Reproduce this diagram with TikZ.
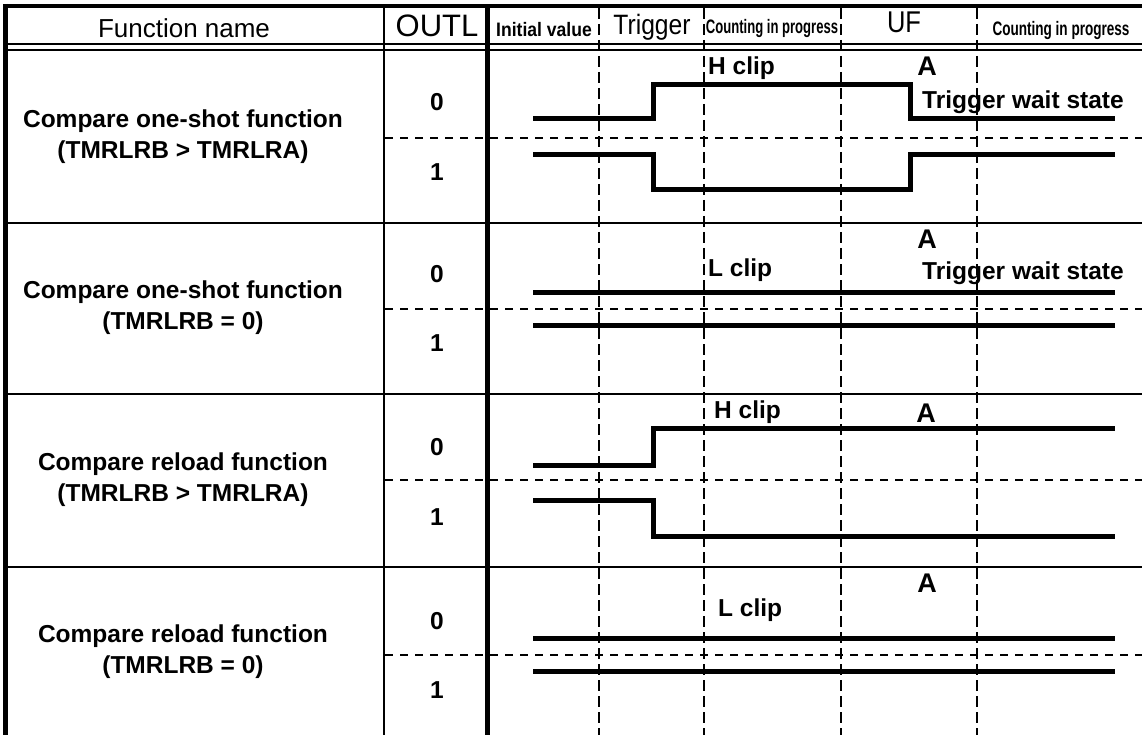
\documentclass[tikz,border=0pt]{standalone}
\usepackage{fontspec}
\setmainfont{Liberation Sans}
\usetikzlibrary{positioning}

\newcommand{\squeeze}[2]{\scalebox{#1}[1]{#2}}

\begin{document}
\begin{tikzpicture}[x=1pt, y=-1pt,
    lbl/.style={font=\fontsize{24.5}{31}\selectfont\bfseries, inner sep=0pt},
    fname/.style={lbl, align=center},
    bigA/.style={font=\fontsize{27}{30}\selectfont\bfseries, inner sep=0pt},
    hdr/.style={font=\fontsize{26}{30}\selectfont, inner sep=0pt},
    hdrsmall/.style={font=\fontsize{19.5}{22}\selectfont\bfseries, inner sep=0pt},
    wave/.style={line width=5pt, line join=miter},
    tick/.style={dash pattern=on 11pt off 5pt, line width=2.5pt},
    split/.style={dash pattern=on 8pt off 7pt, line width=2pt},
    rule/.style={line width=2.5pt}]
    \useasboundingbox (0,0) rectangle (1142,735);
    %
    % frame and columns
    \draw[line width=4pt] (3,6) -- (1142,6);
    \draw[line width=5pt] (5,4) -- (5,735);
    \draw[rule] (384,6) -- (384,735);
    \draw[line width=5pt] (487,6) -- (487,735);
    \draw[line width=2pt] (5,44.5) -- (1142,44.5);
    \draw[line width=2pt] (5,50) -- (1142,50);
    \foreach \y in {223,394,567} :
    \draw[rule] (5,\y) -- (1142,\y);
    %
    % 0/1 split and timing marks
    \foreach \y in {138,309,480,655} :
    \draw[split] (385,\y) -- (1142,\y);
    \foreach \x in {599,704,841,977} :
    \draw[tick] (\x,8) -- (\x,735);
    %
    % header
    \node[hdr] (hName) at (184,28) {Function name};
    \node[hdr, font=\fontsize{31}{34}\selectfont] (hOutl) at (437,26) {OUTL};
    \node[hdrsmall] (hInit) at (544,30) {\squeeze{0.9}{Initial value}};
    \node[hdr, font=\fontsize{28}{32}\selectfont] (hTrig) at (652,27) {\squeeze{0.88}{Trigger}};
    \node[hdrsmall] (hCnt) at (772,29) {\squeeze{0.67}{Counting in progress}};
    \node[hdr, font=\fontsize{30}{32}\selectfont] (hUF) at (904,22) {\squeeze{0.85}{UF}};
    \node[hdrsmall] (hCntB) at (1061,31) {\squeeze{0.695}{Counting in progress}};
    %
    % function names
    \node[fname] (fnA) at (183,137) {Compare one-shot function\\(TMRLRB > TMRLRA)};
    \node[fname] (fnB) at (183,308) {Compare one-shot function\\(TMRLRB = 0)};
    \node[fname] (fnC) at (183,480) {Compare reload function\\(TMRLRB > TMRLRA)};
    \node[fname] (fnD) at (183,652) {Compare reload function\\(TMRLRB = 0)};
    %
    % OUTL values
    \foreach \n/\y in {A/102,B/274,C/447,D/621} :
    \node[lbl] (zero\n) at (437,\y) {0};
    \foreach \n/\y in {A/172,B/343,C/517,D/690} :
    \node[lbl] (one\n) at (437,\y) {1};
    %
    % one-shot, TMRLRB > TMRLRA
    \draw[wave] (533,119) -- (653,119) -- (653,85) -- (910,85) -- (910,119) -- (1115,119);
    \draw[wave] (533,155) -- (653,155) -- (653,190) -- (910,190) -- (910,155) -- (1115,155);
    \node[lbl, anchor=west] (hclipA) at (708,68) {H clip};
    \node[bigA] (ufA) at (927,66) {A};
    \node[lbl, anchor=west] (waitA) at (922,102) {Trigger wait state};
    %
    % one-shot, TMRLRB = 0
    \draw[wave] (533,292) -- (1115,292);
    \draw[wave] (533,325) -- (1115,325);
    \node[lbl, anchor=west] (lclipB) at (708,270) {L clip};
    \node[bigA] (ufB) at (927,239) {A};
    \node[lbl, anchor=west] (waitB) at (922,273) {Trigger wait state};
    %
    % reload, TMRLRB > TMRLRA
    \draw[wave] (533,465) -- (653,465) -- (653,428) -- (1115,428);
    \draw[wave] (533,500) -- (653,500) -- (653,536) -- (1115,536);
    \node[lbl, anchor=west] (hclipC) at (714,412) {H clip};
    \node[bigA] (ufC) at (926,413) {A};
    %
    % reload, TMRLRB = 0
    \draw[wave] (533,638) -- (1115,638);
    \draw[wave] (533,671) -- (1115,671);
    \node[lbl, anchor=west] (lclipD) at (718,610) {L clip};
    \node[bigA] (ufD) at (927,583) {A};
\end{tikzpicture}
\end{document}
